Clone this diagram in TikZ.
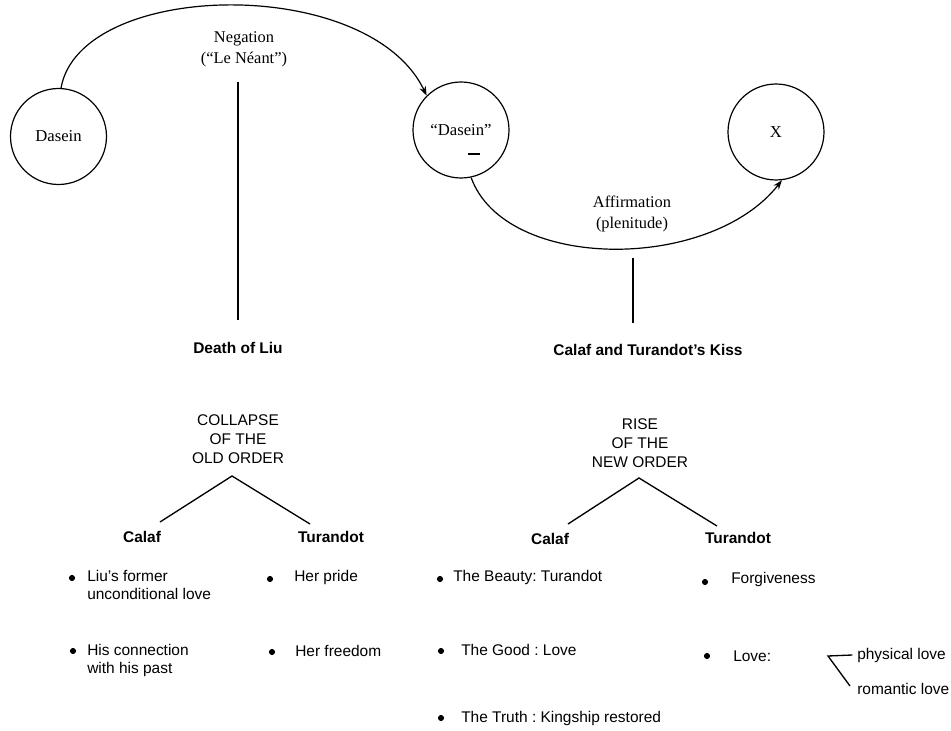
\documentclass[tikz,border=0pt]{standalone}
\usepackage{fontspec}
\setmainfont{Liberation Serif}
\setsansfont{Liberation Sans}
\usetikzlibrary{shapes, arrows.meta, positioning}
\frenchspacing

\begin{document}
\begin{tikzpicture}[x=0.75pt, y=-0.75pt,
            being/.style={draw, circle, minimum size=72pt, inner sep=0pt, line width=0.9pt, font=\fontsize{12.5}{15}\selectfont},
            phase/.style={align=center, font=\fontsize{12.3}{15.5}\selectfont},
            event/.style={font=\sffamily\bfseries\fontsize{11.6}{14}\selectfont},
            ordertitle/.style={align=center, font=\sffamily\fontsize{11.6}{14.3}\selectfont},
            branch/.style={font=\sffamily\bfseries\fontsize{11.6}{14}\selectfont},
            entry/.style={anchor=west, align=left, inner sep=0pt, font=\sffamily\fontsize{11.6}{13.5}\selectfont},
            bullet/.style={circle, fill, inner sep=0pt, minimum size=4.6pt},
            arrow/.style={-{Stealth[length=7pt, width=5pt]}, line width=0.9pt},
            link/.style={line width=1pt}]

            \useasboundingbox (0,0) rectangle (951,731);

            % the three states
            \node[being] (dasein) at (58.5,136.5) {Dasein};
            \node[being] (dasein2) at (461,130) {“Dasein”};
            \node[being] (x) at (776,132) {X};
            \draw[line width=1.1pt] ([shift={(7,24)}]dasein2.center) -- ++(12,0);

            \node[phase] (negation) at (244,49) {Negation\\(“Le Néant”)};
            \node[phase] (affirm) at (632,214) {Affirmation\\(plenitude)};

            \draw[arrow] (dasein.87) .. controls +(19,-108) and +(-58,-122) .. (dasein2.135);
            \draw[arrow] (dasein2.-78) .. controls +(34,94) and +(-72,92) .. (x.-83);

            % events
            \node[event] (death) at (238,348) {Death of Liu};
            \node[event] (kiss) at (648,350) {Calaf and Turandot’s Kiss};

            \coordinate (negtop) at (238,82);
            \coordinate (negfoot) at (238,320);
            \coordinate (afftop) at (633,258);
            \coordinate (afffoot) at (633,323);
            \draw[link] (negtop) -- (negfoot);
            \draw[link] (afftop) -- (afffoot);

            % old order
            \node[ordertitle] (collapse) at (238,439) {COLLAPSE\\OF THE\\OLD ORDER};
            \node[branch] (calaf1) at (142,537) {Calaf};
            \node[branch] (turandot1) at (331,537) {Turandot};
            \coordinate (oldtop) at (232,476);
            \draw[link] ([shift={(18,-15)}]calaf1.center) -- (oldtop) -- ([shift={(-21,-13)}]turandot1.center);

            \node[bullet] (b1) at (72,578) {};
            \node[entry] (t1) at (87,585) {Liu’s former\\unconditional love};
            \node[bullet] (b2) at (73,651) {};
            \node[entry] (t2) at (87,660) {His connection\\with his past};
            \node[bullet] (b3) at (270,579) {};
            \node[entry] (t3) at (294,578) {Her pride};
            \node[bullet] (b4) at (272,652) {};
            \node[entry] (t4) at (295,651) {Her freedom};

            % new order
            \node[ordertitle] (rise) at (640,443) {RISE\\OF THE\\NEW ORDER};
            \node[branch] (calaf2) at (550,539) {Calaf};
            \node[branch] (turandot2) at (738,538) {Turandot};
            \coordinate (newtop) at (639,478);
            \draw[link] ([shift={(18,-15)}]calaf2.center) -- (newtop) -- ([shift={(-21,-12)}]turandot2.center);

            \node[bullet] (b5) at (440,579) {};
            \node[entry] (t5) at (453,578) {The Beauty: Turandot};
            \node[bullet] (b6) at (441,651) {};
            \node[entry] (t6) at (461,650) {The Good : Love};
            \node[bullet] (b7) at (441,718) {};
            \node[entry] (t7) at (461,718) {The Truth : Kingship restored};
            \node[bullet] (b8) at (705,582) {};
            \node[entry] (t8) at (731,580) {Forgiveness};
            \node[bullet] (b9) at (707,656) {};
            \node[entry] (t9) at (733,656) {Love:};

            \node[entry] (physical) at (857,655) {physical love};
            \node[entry] (romantic) at (857,689) {romantic love};
            \coordinate (fork) at (828,656);
            \draw[link] ([xshift=-3.5pt]physical.west) -- (fork) -- ([shift={(-7,-3)}]romantic.west);
        \end{tikzpicture}
\end{document}
